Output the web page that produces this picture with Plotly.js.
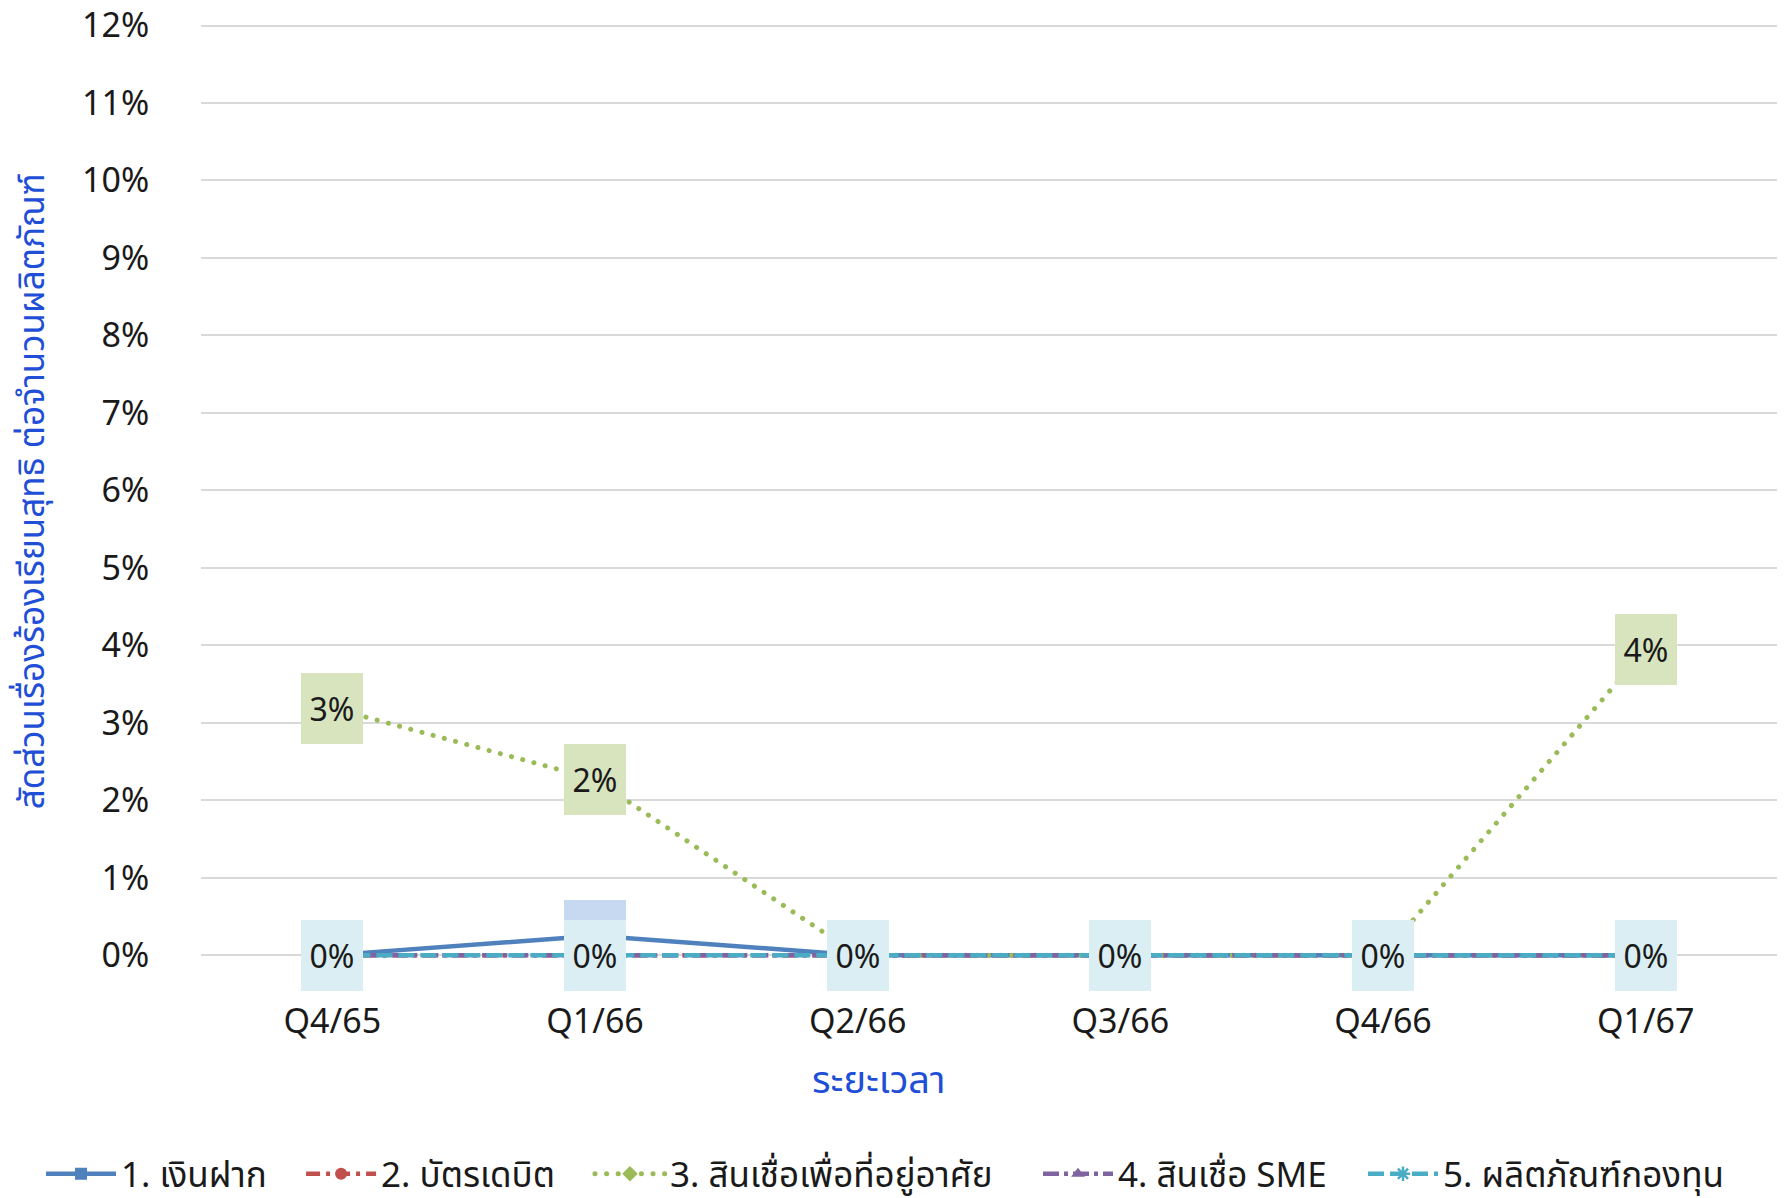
<!DOCTYPE html>
<html>
<head>
<meta charset="utf-8">
<script src="https://cdn.plot.ly/plotly-3.0.1.min.js"></script>
<style>html,body{margin:0;padding:0;background:#fff;}#chart{width:1788px;height:1198px;}</style>
</head>
<body>
<div id="chart"></div>
<script>
const categories = ['Q4/65', 'Q1/66', 'Q2/66', 'Q3/66', 'Q4/66', 'Q1/67'];
const seriesNames = ['1. เงินฝาก', '2. บัตรเดบิต', '3. สินเชื่อเพื่อที่อยู่อาศัย', '4. สินเชื่อ SME', '5. ผลิตภัณฑ์กองทุน'];
const deposit = [0, 0.0025, 0, 0, 0, 0];
const debitCard = [0, 0, 0, 0, 0, 0];
const housingLoan = [0.0319, 0.0227, 0, 0, 0, 0.0395];
const smeLoan = [0, 0, 0, 0, 0, 0];
const fundProduct = [0, 0, 0, 0, 0, 0];
const yTitle = 'สัดส่วนเรื่องร้องเรียนสุทธิ ต่อจำนวนผลิตภัณฑ์';
const xTitle = 'ระยะเวลา';

const FONT = 'Noto Sans, Noto Sans Thai, Lato, sans-serif';
const seriesValues = [deposit, debitCard, housingLoan, smeLoan, fundProduct];
const colors = ['#4f81bd', '#c0504d', '#9bbb59', '#8064a2', '#4bacc6'];
const labelFills = ['#c6d9f1', '#f2dcdb', '#d7e4bd', '#e5e0ec', '#daeef3'];
const dashes = ['solid', '14px,6px,4px,6px', '0.1px,11.5px', '16px,5px,4px,5px', '16px,6px'];
const symbols = ['square', 'circle', 'diamond', 'triangle-up', 'asterisk-open'];
const legendIds = ['legend', 'legend2', 'legend3', 'legend4', 'legend5'];
const legendX = [-0.1015, 0.0635, 0.2468, 0.5311, 0.7373];

const traces = seriesValues.map((vals, i) => ({
  type: 'scatter',
  mode: 'lines+markers',
  name: seriesNames[i],
  legend: legendIds[i],
  x: categories,
  y: vals,
  line: {color: colors[i], width: i === 2 ? 5 : 4.5, dash: dashes[i]},
  marker: {symbol: symbols[i], size: 12, color: colors[i], line: {color: colors[i], width: i === 4 ? 2.5 : 0}},
  cliponaxis: false
}));

const annotations = [];
seriesValues.forEach((vals, i) => {
  vals.forEach((v, j) => {
    annotations.push({
      x: categories[j], y: v, xref: 'x', yref: 'y',
      text: Math.round(v * 100) + '%',
      showarrow: false,
      bgcolor: labelFills[i],
      width: 62, height: 71, borderpad: 0, borderwidth: 0,
      xanchor: 'center', yanchor: 'middle', align: 'center', valign: 'middle',
      font: {family: FONT, size: 32, color: '#1a1a1a'}
    });
  });
});
annotations.push({
  text: xTitle, xref: 'paper', yref: 'paper', x: 0.4296, y: -0.127,
  xanchor: 'center', yanchor: 'middle', showarrow: false,
  font: {family: FONT, size: 38, color: '#1f4fd6'}
});
annotations.push({
  text: yTitle, xref: 'paper', yref: 'paper', x: -0.108, y: 0.5,
  xanchor: 'center', yanchor: 'middle', showarrow: false, textangle: -90,
  font: {family: FONT, size: 35, color: '#1f4fd6'}
});

const layout = {
  width: 1788, height: 1198,
  margin: {l: 201, r: 11, t: 24, b: 239, autoexpand: false},
  paper_bgcolor: '#ffffff', plot_bgcolor: '#ffffff',
  font: {family: FONT, size: 34, color: '#1a1a1a'},
  showlegend: true,
  xaxis: {
    type: 'category', range: [-0.5, 5.5],
    showgrid: false, zeroline: false, showline: false,
    ticks: 'outside', ticklen: 32, tickcolor: 'rgba(0,0,0,0)',
    tickfont: {family: FONT, size: 34, color: '#1a1a1a'}
  },
  yaxis: {
    range: [-0.0005, 0.1202], dtick: 0.01, tick0: 0, tickformat: '.0%',
    showgrid: true, gridcolor: '#d9d9d9', gridwidth: 2,
    zeroline: false, showline: false,
    ticks: 'outside', ticklen: 44, tickcolor: 'rgba(0,0,0,0)',
    tickfont: {family: FONT, size: 34, color: '#1a1a1a'}
  },
  annotations: annotations
};
legendIds.forEach((id, i) => {
  layout[id] = {
    orientation: 'h', x: legendX[i], xanchor: 'left', y: -0.23, yanchor: 'middle',
    font: {family: FONT, size: 35, color: '#1a1a1a'},
    itemwidth: 70, bgcolor: 'rgba(0,0,0,0)'
  };
});

Plotly.newPlot('chart', traces, layout, {displayModeBar: false, staticPlot: true}).then(() => {
  document.querySelectorAll('#chart path').forEach(p => {
    const da = p.style.strokeDasharray || '';
    if (da.indexOf('0.1px') === 0) p.style.strokeLinecap = 'round';
  });
});
</script>
</body>
</html>
